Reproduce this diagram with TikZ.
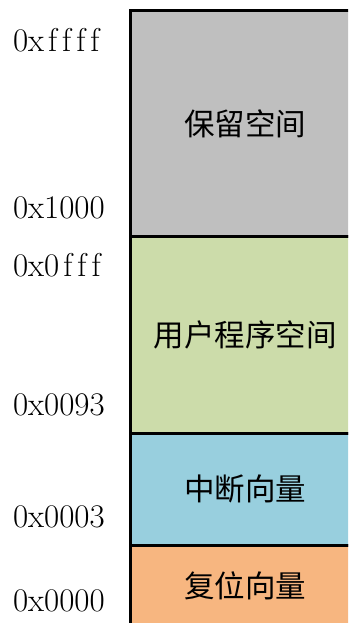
\documentclass[tikz,border=0pt]{standalone}
\usepackage{fontspec}
\newfontfamily\cjk{Noto Sans CJK SC}
\definecolor{resvgray}{RGB}{191,191,191}
\definecolor{usergreen}{RGB}{204,220,170}
\definecolor{intblue}{RGB}{152,207,222}
\definecolor{rstorange}{RGB}{247,182,128}
\newcommand{\hexf}{\kern4pt f\kern1pt}
\tikzset{every node/.style={inner sep=0pt, outer sep=0pt},
  block/.style={draw=black, line width=3pt, minimum width=230pt, font=\cjk\fontsize{30.5}{36}\selectfont},
  addr/.style={anchor=west, font=\fontsize{33}{38}\selectfont}}

\begin{document}
\begin{tikzpicture}[x=1pt,y=-1pt]
   \useasboundingbox (0,0) rectangle (348,623);
   \clip (0,0) rectangle (348,623);
   % memory blocks
   \node[block, fill=resvgray,  minimum height=225pt] (resv) at (245,123.5) {保留空间};
   \node[block, fill=usergreen, minimum height=197pt] (user) at (245,334.5) {用户程序空间};
   \node[block, fill=intblue,   minimum height=112pt] (intv) at (245,489.0) {中断向量};
   \node[block, fill=rstorange, minimum height= 82pt] (rstv) at (245,586.0) {复位向量};
   % addresses
   \node[addr] (affff) at (13, 40) {0x\hexf\hexf\hexf\hexf};
   \node[addr] (a1000) at (13,208) {0x1000};
   \node[addr] (a0fff) at (13,265) {0x0\hexf\hexf\hexf};
   \node[addr] (a0093) at (13,405) {0x0093};
   \node[addr] (a0003) at (13,517) {0x0003};
   \node[addr] (a0000) at (13,601) {0x0000};
\end{tikzpicture}
\end{document}
